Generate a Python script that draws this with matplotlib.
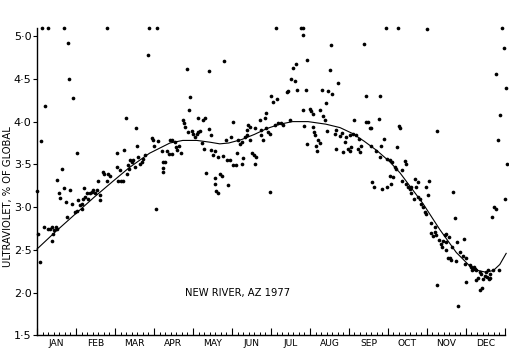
import numpy as np
import matplotlib
matplotlib.use("Agg")
import matplotlib.pyplot as plt

# daily values (day of year, UV as % of global)
# values above the frame are drawn on the top edge (5.09)
day = [0.2, 1.0, 2.3, 3.5, 4.1, 5.7, 6.5, 8.8, 8.8, 10.0,
       11.5, 12.0, 12.7, 13.3, 14.8, 15.4, 15.9, 17.4, 18.0, 19.3,
       21.3, 21.3, 22.7, 23.7, 24.5, 25.0, 25.8, 27.6, 28.4, 29.7,
       31.0, 31.0, 32.3, 33.6, 35.0, 35.0, 35.7, 36.7, 37.5, 38.8,
       40.1, 41.4, 42.7, 44.0, 45.3, 46.6, 47.9, 49.2, 49.2, 51.3,
       52.4, 54.5, 54.9, 55.7, 57.0, 62.8, 62.8, 63.5, 64.9, 65.4,
       67.0, 68.2, 69.3, 70.1, 71.4, 72.1, 72.7, 74.0, 75.3, 76.6,
       77.4, 77.9, 79.2, 80.5, 81.8, 83.1, 84.4, 86.5, 87.8, 89.6,
       90.4, 91.4, 92.8, 94.0, 94.8, 97.5, 98.2, 98.7, 98.7, 100.0,
       101.4, 103.4, 104.0, 105.3, 106.0, 107.9, 108.6, 109.2, 111.2, 112.3,
       114.4, 114.9, 115.7, 117.0, 118.3, 119.0, 119.6, 120.9, 122.2, 123.5,
       124.8, 125.6, 126.1, 127.4, 128.7, 130.0, 130.5, 131.3, 132.1, 134.4,
       134.4, 135.8, 136.5, 137.8, 139.1, 139.1, 139.1, 140.0, 141.7, 141.9,
       143.0, 144.8, 145.6, 146.4, 147.5, 149.0, 149.5, 150.9, 151.6, 153.4,
       153.4, 155.3, 156.1, 157.3, 158.7, 160.0, 160.0, 161.2, 162.6, 163.9,
       163.9, 165.2, 166.5, 166.5, 167.8, 169.8, 170.4, 170.4, 171.7, 174.3,
       175.6, 175.6, 176.9, 178.2, 179.5, 179.5, 180.8, 182.1, 182.1, 182.9,
       184.7, 186.0, 187.3, 188.1, 188.6, 191.2, 192.5, 195.2, 196.4, 197.7,
       198.5, 200.4, 201.6, 202.4, 203.0, 206.9, 207.7, 208.1, 208.1, 209.2,
       210.1, 211.0, 211.3, 213.4, 214.7, 216.0, 216.0, 216.5, 217.3, 218.0,
       219.1, 219.9, 221.2, 221.7, 223.3, 223.8, 225.1, 226.4, 227.2, 227.7,
       229.5, 230.3, 231.1, 232.9, 234.2, 234.2, 235.5, 236.8, 238.9, 239.4,
       240.7, 242.1, 243.3, 244.6, 244.6, 245.9, 247.2, 247.8, 249.3, 251.1,
       251.9, 253.0, 253.8, 255.8, 257.1, 257.7, 258.9, 260.3, 261.6, 261.6,
       262.4, 263.4, 265.0, 267.5, 268.1, 268.1, 269.4, 270.2, 271.2, 272.8,
       273.8, 273.8, 275.9, 275.9, 277.2, 278.0, 278.5, 279.8, 281.1, 281.6,
       282.4, 283.2, 284.0, 285.8, 285.8, 287.6, 288.4, 289.0, 290.2, 291.5,
       292.8, 292.8, 294.7, 295.4, 296.2, 298.0, 298.0, 299.4, 300.7, 301.9,
       303.3, 304.0, 304.6, 305.1, 305.9, 306.6, 308.5, 308.5, 309.8, 311.1,
       311.1, 311.9, 313.2, 313.2, 314.4, 316.3, 317.1, 317.6, 318.9, 320.2,
       320.2, 320.2, 321.5, 322.3, 322.8, 324.1, 324.9, 325.4, 326.7, 327.5,
       328.5, 329.3, 331.2, 333.2, 333.7, 334.5, 335.9, 335.9, 338.4, 339.8,
       340.6, 341.0, 341.6, 342.3, 343.6, 343.6, 344.9, 346.2, 346.8, 347.6,
       348.4, 348.9, 350.2, 351.5, 352.0, 352.8, 353.5, 354.1, 354.6, 356.2,
       356.7, 357.2, 358.8, 359.3, 360.5, 361.4, 362.4, 364.0, 365.0, 365.8,
       367.0, 367.6]
uv = [3.19, 2.69, 2.36, 3.77, 5.09, 2.77, 4.18, 2.74, 5.09, 2.75,
      2.61, 2.77, 2.69, 2.73, 2.77, 2.75, 3.32, 3.16, 3.11, 3.45,
      3.22, 5.09, 3.06, 2.88, 4.92, 4.50, 3.20, 3.04, 4.28, 2.94,
      3.63, 2.96, 3.08, 3.02, 3.04, 2.98, 3.10, 3.22, 3.12, 3.16,
      3.10, 3.16, 3.18, 3.20, 3.17, 3.20, 3.31, 3.14, 3.08, 3.41,
      3.39, 3.31, 5.09, 3.39, 3.37, 3.63, 3.47, 3.31, 3.43, 3.31,
      3.31, 3.67, 4.04, 3.39, 3.49, 3.45, 3.55, 3.53, 3.55, 3.47,
      3.92, 3.72, 3.59, 3.51, 3.53, 3.56, 3.61, 4.78, 5.09, 3.81,
      3.78, 3.71, 2.98, 5.09, 3.77, 3.66, 3.41, 3.53, 3.46, 3.53,
      3.66, 3.62, 3.78, 3.62, 3.78, 3.76, 3.70, 3.67, 3.72, 3.63,
      4.02, 3.98, 3.94, 4.61, 3.88, 4.14, 4.29, 3.89, 3.85, 3.82,
      3.86, 4.04, 3.88, 3.89, 3.75, 4.02, 3.68, 4.04, 3.40, 4.59,
      3.91, 3.84, 3.67, 3.61, 3.34, 3.27, 3.66, 3.19, 3.59, 3.16,
      3.39, 3.37, 3.60, 4.71, 3.78, 3.55, 3.26, 3.55, 3.82, 4.00,
      3.49, 3.49, 3.63, 3.78, 3.74, 3.76, 3.50, 3.58, 3.82, 3.84,
      3.90, 3.96, 3.94, 3.78, 3.63, 3.61, 3.92, 3.51, 3.59, 4.02,
      3.90, 3.84, 3.78, 4.04, 4.10, 3.92, 3.88, 3.86, 3.18, 4.30,
      4.23, 3.96, 5.09, 4.27, 3.98, 3.98, 3.96, 4.35, 4.36, 4.02,
      4.50, 4.63, 4.48, 4.67, 4.37, 5.09, 5.01, 5.09, 4.14, 3.95,
      4.37, 3.74, 4.72, 4.15, 4.12, 4.09, 3.94, 3.88, 3.84, 3.72,
      3.66, 3.79, 3.75, 4.14, 4.37, 4.07, 4.02, 4.22, 3.89, 4.36,
      4.60, 4.89, 4.32, 3.86, 3.90, 3.68, 4.45, 3.83, 3.87, 3.65,
      3.76, 3.82, 3.68, 3.84, 3.66, 3.70, 3.86, 4.02, 3.84, 3.68,
      3.80, 3.65, 3.72, 4.91, 4.00, 4.30, 4.00, 3.92, 3.92, 3.72,
      3.29, 3.24, 3.66, 4.03, 4.30, 3.59, 3.72, 3.21, 3.80, 5.09,
      3.56, 3.23, 3.55, 3.37, 3.27, 3.53, 3.35, 3.47, 3.45, 3.70,
      5.09, 3.95, 3.93, 3.43, 3.31, 3.54, 3.50, 3.27, 3.23, 3.21,
      3.24, 3.16, 3.10, 3.33, 3.23, 3.29, 3.12, 3.10, 3.04, 3.00,
      2.94, 3.24, 2.92, 5.08, 3.14, 3.31, 2.81, 2.70, 2.66, 2.77,
      2.71, 2.67, 3.89, 2.09, 2.62, 2.57, 2.53, 2.61, 2.67, 2.69,
      2.59, 2.50, 2.41, 2.65, 2.41, 2.38, 2.53, 3.18, 2.87, 2.37,
      2.59, 1.84, 2.48, 2.43, 2.63, 2.33, 2.40, 2.13, 2.32, 2.30,
      2.26, 2.28, 2.30, 2.28, 2.26, 2.15, 2.17, 2.24, 2.03, 2.22,
      2.06, 2.16, 2.20, 2.24, 2.18, 2.26, 2.16, 2.22, 2.17, 2.89,
      2.26, 3.00, 2.98, 4.56, 3.78, 2.27, 4.08, 5.09, 4.86, 3.10,
      4.39, 3.50]

# fitted curve, read at a number of days
curve_day = [0, 15, 30, 45, 60, 72, 88, 104, 114, 125, 135, 143, 150, 160,
             170, 180, 190, 200, 212, 226, 237, 247, 256, 266, 276, 284,
             292, 302, 315, 328, 338, 345, 351, 357, 362, 367]
curve_uv = [2.51, 2.72, 2.92, 3.12, 3.31, 3.46, 3.63, 3.75, 3.78, 3.78, 3.76,
            3.74, 3.75, 3.79, 3.85, 3.92, 3.97, 4.00, 4.00, 3.97, 3.93, 3.86,
            3.77, 3.66, 3.53, 3.40, 3.24, 3.04, 2.74, 2.47, 2.32, 2.26, 2.24,
            2.26, 2.33, 2.46]

months = ["JAN", "FEB", "MAR", "APR", "MAY", "JUN",
          "JUL", "AUG", "SEP", "OCT", "NOV", "DEC"]
yticks = [1.5, 2.0, 2.5, 3.0, 3.5, 4.0, 4.5, 5.0]

plt.rcParams['font.family'] = ['DejaVu Sans']

fig = plt.figure(figsize=(5.10, 3.49), dpi=100)
ax = fig.add_axes([0.0725, 0.0387, 0.9175, 0.8825])

ax.plot(curve_day, curve_uv, color='k', lw=0.8, clip_on=False)
ax.scatter(day, uv, s=7, color='k', linewidths=0, clip_on=False, zorder=3)

ax.set_xlim(0, 366)
ax.set_ylim(1.5, 5.1)

for s in ['top', 'right']:
    ax.spines[s].set_visible(False)
for s in ['left', 'bottom']:
    ax.spines[s].set_linewidth(1.0)

mlen = 366 / 12.0
ax.set_xticks([i * mlen for i in range(13)])
ax.set_xticks([i * mlen + j * mlen / 7 for i in range(12) for j in range(1, 7)],
              minor=True)
ax.tick_params(axis='x', which='major', direction='in', length=5, width=0.8,
               labelbottom=False)
ax.tick_params(axis='x', which='minor', direction='in', length=2.5, width=0.7)
for i, m in enumerate(months):
    ax.annotate(m, xy=((i + 0.5) * mlen, 0), xycoords=('data', 'axes fraction'),
                xytext=(0, -8.8), textcoords='offset points',
                ha='center', va='bottom', fontsize=6.6)

ax.set_yticks(yticks)
ax.set_yticklabels([("%.1f" % v).replace(".", "\u00b7") for v in yticks])
ax.tick_params(axis='y', direction='out', length=3, width=0.8, pad=1,
               labelsize=8)

fig.text(8 / 510, 0.437, "ULTRAVIOLET, % OF GLOBAL", rotation=90,
         ha='center', va='center', fontsize=7.2)
ax.text(115.7, 2.00, "NEW RIVER, AZ 1977", fontsize=7.2, va='center', ha='left')

fig.savefig("out.png", dpi=100)
